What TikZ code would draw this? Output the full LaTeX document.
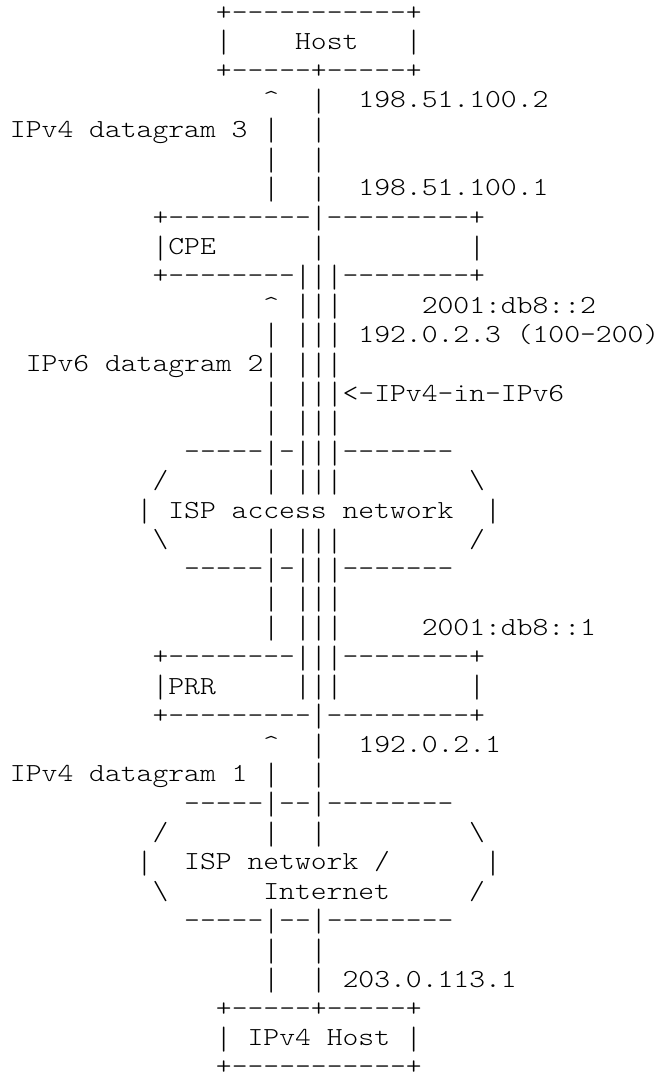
\documentclass[tikz,border=0pt]{standalone}
\usepackage{fontspec}
\usepackage{graphicx}
\usepackage{tikz}
\newfontfamily\asciifont{lmmonolt10-regular.otf}
\newcommand{\caret}{\textasciicircum}
\newcommand{\bsl}{\textbackslash}
\newcommand{\vb}{\raisebox{-0.135em}{\scalebox{1}[1.24]{|}}}
\tikzset{
every node/.style={inner sep=0pt, outer sep=0pt}}

\begin{document}
\begin{tikzpicture}[x=0.5pt,y=-0.5pt, asciiline/.style = {anchor=base west, xscale=1.16, font=\fontsize{13}{13}\selectfont\asciifont\frenchspacing}]
   \useasboundingbox (0,0) rectangle (663,1079);
   \foreach [count=\row] \col/\txt in {
      13/{+-----------+},
      13/{\vb~~~~Host~~~\vb},
      13/{+-----+-----+},
      16/{\caret~~\vb~~198.51.100.2},
      0/{IPv4 datagram 3 \vb~~\vb},
      16/{\vb~~\vb},
      16/{\vb~~\vb~~198.51.100.1},
      9/{+---------\vb---------+},
      9/{\vb CPE~~~~~~\vb~~~~~~~~~\vb},
      9/{+--------\vb\vb\vb--------+},
      16/{\caret~\vb\vb\vb~~~~~2001:db8::2},
      16/{\vb~\vb\vb\vb~192.0.2.3 (100-200)},
      1/{IPv6 datagram 2\vb~\vb\vb\vb},
      16/{\vb~\vb\vb\vb<-IPv4-in-IPv6},
      16/{\vb~\vb\vb\vb},
      11/{-----\vb-\vb\vb\vb-------},
      9/{/~~~~~~\vb~\vb\vb\vb~~~~~~~~\bsl},
      8/{\vb~ISP access network~~\vb},
      9/{\bsl~~~~~~\vb~\vb\vb\vb~~~~~~~~/},
      11/{-----\vb-\vb\vb\vb-------},
      16/{\vb~\vb\vb\vb},
      16/{\vb~\vb\vb\vb~~~~~2001:db8::1},
      9/{+--------\vb\vb\vb--------+},
      9/{\vb PRR~~~~~\vb\vb\vb~~~~~~~~\vb},
      9/{+---------\vb---------+},
      16/{\caret~~\vb~~192.0.2.1},
      0/{IPv4 datagram 1 \vb~~\vb},
      11/{-----\vb--\vb--------},
      9/{/~~~~~~\vb~~\vb~~~~~~~~~\bsl},
      8/{\vb~~ISP network /~~~~~~\vb},
      9/{\bsl~~~~~~Internet~~~~~/},
      11/{-----\vb--\vb--------},
      16/{\vb~~\vb},
      16/{\vb~~\vb~203.0.113.1},
      13/{+-----+-----+},
      13/{\vb~IPv4 Host~\vb},
      13/{+-----------+}}
   \node[asciiline] (r\row) at (10+15.84*\col, 20.1+29.3*\row-29.3) {\txt};
\end{tikzpicture}
\end{document}
